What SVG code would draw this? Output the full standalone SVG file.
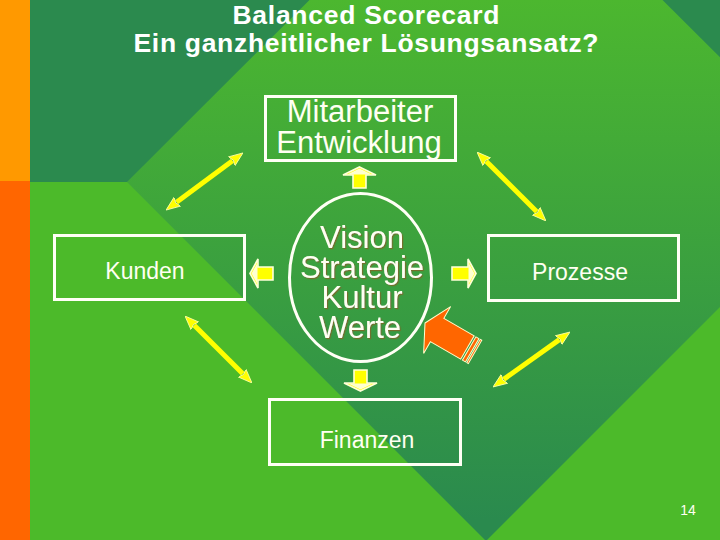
<svg xmlns="http://www.w3.org/2000/svg" width="720" height="540" viewBox="0 0 720 540">
<defs>
<linearGradient id="dia" gradientUnits="userSpaceOnUse" x1="0" y1="0" x2="0" y2="520">
<stop offset="0" stop-color="#4CB72F"/>
<stop offset="1" stop-color="#2A8A4E"/>
</linearGradient>
<marker id="yh" markerUnits="userSpaceOnUse" markerWidth="14" markerHeight="12" viewBox="0 0 14 12" refX="1" refY="6" orient="auto-start-reverse">
<path d="M0,0.5 L14,6 L0,11.5 L2,6 Z" fill="#FFFF00" stroke="#FFFFB0" stroke-width="0.8"/>
</marker>
<filter id="sh" x="-10%" y="-10%" width="120%" height="130%">
<feDropShadow dx="1.2" dy="1.2" stdDeviation="0.3" flood-color="#7A6A2A" flood-opacity="0.9"/>
</filter>
</defs>
<style>
.box{fill:none;stroke:#FFFFF5;stroke-width:3}
.t{font-family:"Liberation Sans",Arial,sans-serif;fill:#FFFFF2;text-anchor:middle}
.title{font-family:"Liberation Sans",Arial,sans-serif;font-weight:bold;font-size:26.5px;fill:#FFFFFF;text-anchor:middle}
.big{font-size:31px}
.mid{font-size:23px}
.dbl{stroke:#FFFF00;stroke-width:5;marker-start:url(#yh);marker-end:url(#yh)}
.blk{fill:#FFFF00;stroke:#FFFFD8;stroke-width:1.6;stroke-linejoin:miter}
.hd{fill:#FFFFD0}
</style>
<!-- background -->
<rect x="0" y="0" width="720" height="182" fill="#2B8A4E"/>
<rect x="0" y="182" width="720" height="358" fill="#4CBA2A"/>
<polygon points="486,-176 845,182 486,541 127,182" fill="url(#dia)"/>
<rect x="0" y="0" width="30" height="181" fill="#FF9900"/>
<rect x="0" y="181" width="30" height="359" fill="#FF6600"/>

<g id="title">
<text class="title" x="366" y="24" textLength="267" lengthAdjust="spacing">Balanced Scorecard</text>
<text class="title" x="366" y="52" textLength="465" lengthAdjust="spacing">Ein ganzheitlicher Lösungsansatz?</text>
</g>

<g id="mitarbeiter">
<rect class="box" x="265.5" y="96.5" width="190" height="64"/>
<text class="t big" x="360" y="122">Mitarbeiter</text>
<text class="t big" x="359" y="153">Entwicklung</text>
</g>

<g id="kunden">
<rect class="box" x="54.5" y="235.5" width="190" height="64"/>
<text class="t mid" x="145" y="279">Kunden</text>
</g>

<g id="prozesse">
<rect class="box" x="488.5" y="235.5" width="190" height="65"/>
<text class="t mid" x="580" y="280">Prozesse</text>
</g>

<g id="finanzen">
<rect class="box" x="269.5" y="399.5" width="191" height="65"/>
<text class="t mid" x="367" y="448">Finanzen</text>
</g>

<g id="center">
<ellipse cx="360.5" cy="277.5" rx="71" ry="84" fill="none" stroke="#FFFFF5" stroke-width="3"/>
<g filter="url(#sh)">
<text class="t big" x="362" y="248">Vision</text>
<text class="t big" x="362" y="278">Strategie</text>
<text class="t big" x="362" y="308">Kultur</text>
<text class="t big" x="360" y="338">Werte</text>
</g>
</g>

<g id="connectors">
<line class="dbl" x1="176.5" y1="202.3" x2="232.5" y2="160.7"/>
<line class="dbl" x1="486.2" y1="161.2" x2="536.8" y2="211.8"/>
<line class="dbl" x1="194.2" y1="325.2" x2="242.8" y2="373.8"/>
<line class="dbl" x1="503.6" y1="379.4" x2="559.4" y2="339.6"/>
<!-- up -->
<polygon class="blk" points="359.5,167 376,175 366,175 366,188 353,188 353,175 343,175"/>
<polygon class="hd" points="359.5,168.5 372,174.5 347,174.5"/>
<!-- left -->
<polygon class="blk" points="250,273.5 258,259 258,267 273,267 273,280 258,280 258,288"/>
<polygon class="hd" points="251.5,273.5 257.5,262.5 257.5,284.5"/>
<!-- right -->
<polygon class="blk" points="476,273.5 468,259 468,267 452,267 452,280 468,280 468,288"/>
<polygon class="hd" points="474.5,273.5 468.5,262.5 468.5,284.5"/>
<!-- down -->
<polygon class="blk" points="360.5,391 377,383 367,383 367,370 354,370 354,383 344,383"/>
<polygon class="hd" points="360.5,389.5 373,383.5 348,383.5"/>
</g>

<g id="pointer" transform="translate(425,323) rotate(30)">
<polygon points="0,0 14,-27 14,-13.5 49,-13.5 49,13.5 14,13.5 14,27" fill="#FF6600" stroke="#FFFFCC" stroke-width="1"/>
<rect x="51" y="-13.5" width="3.5" height="27" fill="#FF6600" stroke="#FFFFCC" stroke-width="1"/>
<rect x="56" y="-13.5" width="1.8" height="27" fill="#FF6600" stroke="#FFFFCC" stroke-width="1"/>
</g>

<g id="page">
<text class="t" x="688" y="515" font-size="14">14</text>
</g>
</svg>
